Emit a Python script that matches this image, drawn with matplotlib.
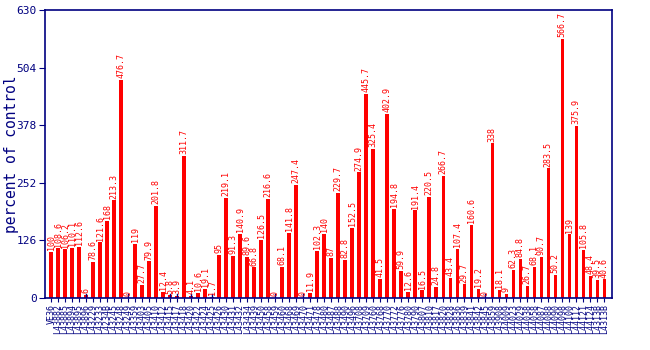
import matplotlib
matplotlib.use("Agg")
import matplotlib.pyplot as plt
import numpy as np

labels = [
    "VE36", "L43882", "L43885", "L43894", "L43895", "L43896", "L43229", "L43233",
    "L4234B", "L43245", "L43248", "L43249", "L43359", "L43403", "L43405", "L43410",
    "L43412", "L43415", "L43417", "L43418", "L43420", "L43422", "L43424", "L43425",
    "L43426", "L43430", "L43431", "L43432", "L43434", "L43439", "L43450", "L43458",
    "L43459", "L43460", "L43468", "L43469", "L43470", "L43471", "L43478", "L43480",
    "L43487", "L43488", "L43490", "L43496", "L43708", "L43709", "L43760", "L43768",
    "L43770", "L43772", "L43776", "L43780", "L43790", "L43807", "L43810", "L43817",
    "L43820", "L43828", "L43836", "L43839", "L43841", "L43842", "L43845", "L43859",
    "L43908", "L44009", "L44023", "L44029", "L44038", "L44058", "L44087", "L44088",
    "L44090", "L44098", "L44100", "L44112", "L44121", "L44124", "L4313B", "L4313B",
]

values = [
    100, 108.6, 106.2, 110.1, 112.6, 6, 78.6, 121.6, 168, 213.3,
    476.7, 0, 119, 27.7, 79.9, 201.8, 12.4, 5.8, 3.9, 311.7,
    4.1, 10.6, 19.1, 1.7, 95, 219.1, 91.3, 140.9, 89.6, 66.8,
    126.5, 216.6, 0, 68.1, 141.8, 247.4, 0, 11.9, 102.3, 140,
    87, 229.7, 82.8, 152.5, 274.9, 445.7, 325.4, 41.5, 402.9, 194.8,
    59.9, 12.6, 191.4, 16.5, 220.5, 24.8, 266.7, 43.4, 107.4, 29.7,
    160.6, 19.2, 0, 338, 18.1, 9, 62.3, 84.8, 26.7, 68.1,
    90.7, 283.5, 50.2, 566.7, 139, 375.9, 105.8, 48.4, 39.5, 40.6,
]

yticks = [0, 126, 252, 378, 504, 630]

navy = "#000080"
mono = "DejaVu Sans Mono"

fig = plt.figure(figsize=(6.5, 3.5), dpi=100)
ax = fig.add_axes([0.0692, 0.1486, 0.872, 0.8228])

x = np.arange(len(values))
ax.bar(x, values, width=0.5, color="#ff0000", zorder=2)

# tiny values get a blue marker stub
for xi, v in zip(x, values):
    if v < 7:
        ax.plot([xi, xi], [0, 8], color=navy, lw=1.0, zorder=3)

for xi, v in zip(x, values):
    ax.text(xi, v + 4, f"{v:g}", rotation=90, ha="center", va="bottom",
            fontsize=6, color="#ff0000", family=mono)

ax.set_xlim(-0.86, 80.06)
ax.set_ylim(0, 630)
ax.set_yticks(yticks)
ax.set_yticklabels([str(t) for t in yticks], family=mono, fontsize=8, color=navy)
ax.set_xticks(x)
ax.set_xticklabels(labels, rotation=90, family=mono, fontsize=6, color=navy)
ax.tick_params(axis="x", length=3, color=navy, pad=1)
ax.tick_params(axis="y", length=4, color=navy, pad=2)
for s in ax.spines.values():
    s.set_color(navy)
    s.set_linewidth(1.2)

ax.set_ylabel("percent of control", family=mono, fontsize=10.5, color=navy)
ax.yaxis.set_label_coords(-0.045, 0.5)

fig.savefig("out.png", dpi=100)
